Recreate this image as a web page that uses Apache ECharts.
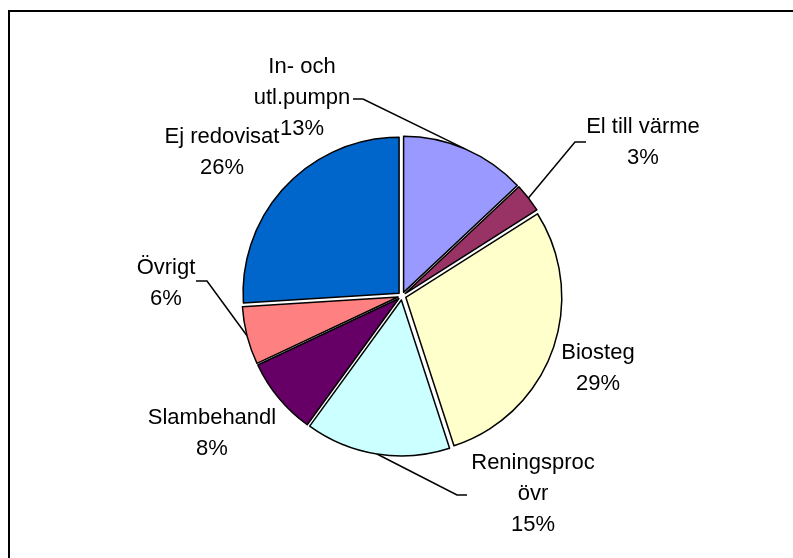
<!DOCTYPE html>
<html>
<head>
<meta charset="utf-8">
<script src="https://cdn.jsdelivr.net/npm/echarts@6/dist/echarts.min.js"></script>
<style>
  html, body { margin: 0; padding: 0; background: #fff; }
  #chart { width: 793px; height: 558px; }
</style>
</head>
<body>
<div id="chart"></div>
<script>
  // slices, clockwise from 12 o'clock
  const categories = ['In- och\nutl.pumpn', 'El till värme', 'Biosteg', 'Reningsproc\növr', 'Slambehandl', 'Övrigt', 'Ej redovisat']
  const shares = [13, 3, 29, 15, 8, 6, 26]
  const colors = ['#9999FF', '#993366', '#FFFFCC', '#CCFFFF', '#660066', '#FF8080', '#0066CC']

  // label layout (centre of each label block) and leader line elbows
  const center = [402, 296]
  const radius = 156
  const explode = 4
  const labelPos = [[302, 98], [643, 142], [598, 368], [533, 494], [212, 433], [166, 283], [222, 152]]
  const leaders = [
    [[363, 99], [353, 99]],
    [[575, 142], [586, 142]],
    null,
    [[457, 495], [467, 495]],
    null,
    [[207, 281], [196, 281]],
    null
  ]

  const chart = echarts.init(document.getElementById('chart'))

  const labelFont = {
    color: '#000',
    fontFamily: 'Liberation Sans, Arial, sans-serif',
    fontSize: 22,
    lineHeight: 31,
    align: 'center'
  }

  chart.setOption({
    animation: false,
    graphic: [{
      type: 'rect',
      shape: { x: 9, y: 11, width: 820, height: 580 },
      style: { fill: 'none', stroke: '#000', lineWidth: 2 },
      silent: true
    }],
    series: [{
      // exploded slices
      type: 'pie',
      center: center,
      radius: radius,
      startAngle: 90,
      clockwise: true,
      selectedMode: 'multiple',
      selectedOffset: explode,
      silent: true,
      itemStyle: { borderColor: '#000', borderWidth: 1.5 },
      select: { itemStyle: { borderColor: '#000', borderWidth: 1.5 } },
      emphasis: { disabled: true },
      label: { show: false },
      labelLine: { show: false },
      data: categories.map(function (name, i) {
        return {
          name: name,
          value: shares[i],
          selected: true,
          itemStyle: { color: colors[i] },
          select: { itemStyle: { color: colors[i] } }
        }
      })
    }, {
      // labels and leader lines
      type: 'pie',
      center: center,
      radius: radius,
      startAngle: 90,
      clockwise: true,
      silent: true,
      avoidLabelOverlap: false,
      itemStyle: { color: 'rgba(0,0,0,0)', borderWidth: 0 },
      emphasis: { disabled: true },
      label: Object.assign({ position: 'outside', formatter: '{b}\n{d}%' }, labelFont),
      labelLine: { show: true, lineStyle: { color: '#000', width: 1.5 } },
      labelLayout: function (p) {
        const i = p.dataIndex
        const out = {
          x: labelPos[i][0],
          y: labelPos[i][1],
          align: 'center',
          verticalAlign: 'middle'
        }
        const pts = p.labelLinePoints
        if (leaders[i] && pts) {
          const p0 = pts[0]
          const dx = p0[0] - center[0], dy = p0[1] - center[1]
          const len = Math.sqrt(dx * dx + dy * dy)
          const start = [p0[0] + dx / len * explode, p0[1] + dy / len * explode]
          out.labelLinePoints = [start, leaders[i][0], leaders[i][1]]
        }
        return out
      },
      data: categories.map(function (name, i) {
        return {
          name: name,
          value: shares[i],
          labelLine: { show: leaders[i] !== null }
        }
      })
    }]
  })
</script>
</body>
</html>
